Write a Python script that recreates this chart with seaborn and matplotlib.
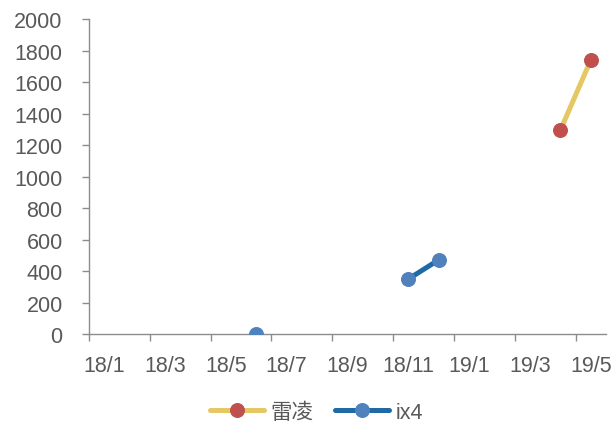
import numpy as np
import pandas as pd
import matplotlib
matplotlib.use("Agg")
import matplotlib.pyplot as plt
import seaborn as sns

# 月度销量数据 (None = 当月无数据, 线断开)
leiling_months = ["2019-04", "2019-05"]
leiling_values = [1295, 1740]
ix4_months = ["2018-06", "2018-07", "2018-08", "2018-09", "2018-10", "2018-11", "2018-12"]
ix4_values = [0, None, None, None, None, 350, 472]

start = pd.Period("2018-01", freq="M")
tick_labels = ["18/1", "18/3", "18/5", "18/7", "18/9", "18/11", "19/1", "19/3", "19/5"]


def to_frame(name, months, values):
    # 每个月占一格, 点放在格子中间
    x = [(pd.Period(m, freq="M") - start).n + 0.5 for m in months]
    d = pd.DataFrame({"x": x, "y": pd.Series(values, dtype=float), "series": name})
    d["seg"] = d["y"].isna().cumsum()
    return d.dropna()


df = pd.concat([
    to_frame("雷凌", leiling_months, leiling_values),
    to_frame("ix4", ix4_months, ix4_values),
])

sns.set_style("white")
plt.rcParams['font.family'] = ['Liberation Sans', 'Noto Sans CJK SC', 'DejaVu Sans']

fig = plt.figure(figsize=(6.14, 4.27), dpi=100)
ax = fig.add_axes([0.145, 0.215, 0.842, 0.738])

line_colors = {"雷凌": "#E5C763", "ix4": "#1F6AA5"}
marker_colors = {"雷凌": "#C0504D", "ix4": "#4F81BD"}

for name in ["雷凌", "ix4"]:
    sub = df[df["series"] == name]
    for i, (seg, part) in enumerate(sub.groupby("seg")):
        sns.lineplot(data=part, x="x", y="y", ax=ax, color=line_colors[name], lw=3.6,
                     marker="o", markersize=10, markerfacecolor=marker_colors[name],
                     markeredgecolor=marker_colors[name],
                     label=name if i == 0 else None, zorder=3)

ax.set_xlim(0, 17)
ax.set_ylim(0, 2000)
ax.set_xticks(np.arange(0, 17, 2))
ax.set_xticklabels([])
ax.set_xticks(np.arange(0, 17, 2) + 0.5, minor=True)
ax.set_xticklabels(tick_labels, minor=True)
ax.set_yticks(np.arange(0, 2001, 200))
ax.set_xlabel("")
ax.set_ylabel("")

for s in ["top", "right"]:
    ax.spines[s].set_visible(False)
for s in ["left", "bottom"]:
    ax.spines[s].set_color("#8C8C8C")
    ax.spines[s].set_linewidth(1.0)

ax.tick_params(axis="x", which="major", direction="out", length=5, width=1.0,
               color="#8C8C8C", bottom=True)
ax.tick_params(axis="x", which="minor", length=0, pad=15, labelsize=15.5,
               labelcolor="#595959")
ax.tick_params(axis="y", direction="out", length=5, width=1.0, color="#8C8C8C",
               left=True, pad=14, labelsize=15.5, labelcolor="#595959")

leg = ax.legend(loc="upper center", bbox_to_anchor=(0.44, -0.18), ncol=2,
                frameon=False, fontsize=15.5, handlelength=2.5, columnspacing=1.0,
                handletextpad=0.3, borderpad=0.0)
for t in leg.get_texts():
    t.set_color("#595959")

fig.savefig("out.png", dpi=100)
